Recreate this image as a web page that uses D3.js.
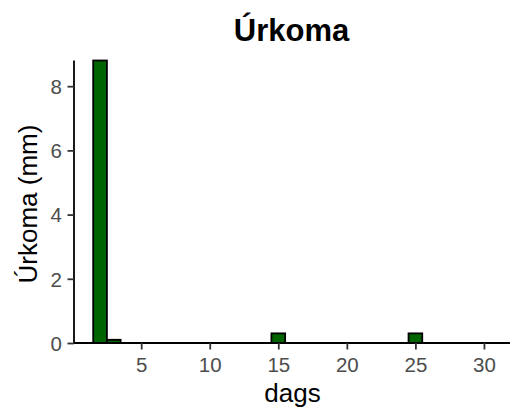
<!DOCTYPE html>
<html><head><meta charset="utf-8">
<script src="https://cdn.jsdelivr.net/npm/d3@7"></script>
<style>body{margin:0;background:#fff}svg{display:block}text{font-family:"Liberation Sans",Arial,sans-serif}</style>
</head><body>
<script>
const days = [2, 3, 15, 25];
const values = [8.8, 0.1, 0.3, 0.3];
const xTicks = [5, 10, 15, 20, 25, 30];
const yTicks = [0, 2, 4, 6, 8];
const title = "Úrkoma";
const xTitle = "dags";
const yTitle = "Úrkoma (mm)";

const W = 523, H = 410;
const svg = d3.select("body").append("svg").attr("width", W).attr("height", H);
const x = d3.scaleLinear().domain([0.1, 31.9]).range([74, 510]);
const y = d3.scaleLinear().domain([0, 8.8]).range([343, 60.5]);

svg.selectAll("rect.bar").data(days).join("rect")
  .attr("x", d => x(d - 0.5)).attr("width", d => x(d + 0.5) - x(d - 0.5))
  .attr("y", (d, i) => y(values[i])).attr("height", (d, i) => y(0) - y(values[i]))
  .attr("fill", "#006400").attr("stroke", "#000").attr("stroke-width", 1.8);

const xa = svg.append("g").attr("transform", "translate(0,343)")
  .call(d3.axisBottom(x).tickValues(xTicks).tickSize(6.5).tickPadding(4).tickSizeOuter(0));
const ya = svg.append("g").attr("transform", "translate(74,0)")
  .call(d3.axisLeft(y).tickValues(yTicks).tickSize(6.5).tickPadding(4).tickSizeOuter(0));
[xa, ya].forEach(a => {
  a.select(".domain").attr("stroke", "#000").attr("stroke-width", 1.8);
  a.selectAll(".tick line").attr("stroke", "#333").attr("stroke-width", 1.8);
  a.selectAll(".tick text").attr("fill", "#4d4d4d").style("font-size", "20.5px")
    .style("font-family", '"Liberation Sans",Arial,sans-serif');
});
xa.select(".domain").attr("d", "M74,0H510");
ya.select(".domain").attr("d", "M0,343V60.5");
xa.selectAll(".tick text").attr("dy", null).attr("y", 29);
ya.selectAll(".tick text").attr("dy", "0.36em").attr("x", -12);

svg.append("text").attr("x", 291.5).attr("y", 40.5).attr("text-anchor", "middle")
  .style("font-size", "31px").style("font-weight", "bold").text(title);
svg.append("text").attr("x", 292.5).attr("y", 402).attr("text-anchor", "middle")
  .style("font-size", "26px").text(xTitle);
svg.append("text").attr("transform", "translate(36.5,204) rotate(-90)").attr("text-anchor", "middle")
  .style("font-size", "26px").text(yTitle);
</script>
</body></html>
